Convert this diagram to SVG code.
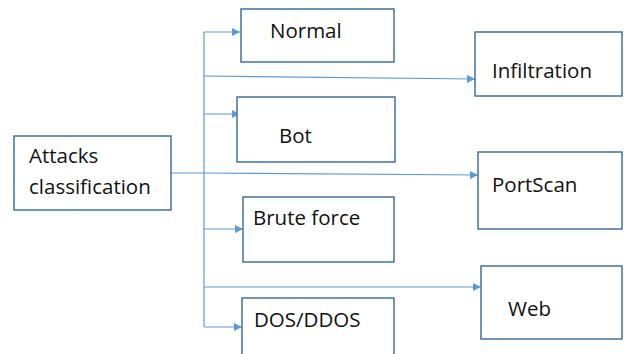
<svg xmlns="http://www.w3.org/2000/svg" width="627" height="354" viewBox="0 0 627 354">
<defs>
<style>
.box{fill:#fff;stroke:#41719C;stroke-width:1.5}
.lbl{font-family:"Open Sans","Liberation Sans",Arial,sans-serif;font-size:20.5px;fill:#111}
.con{fill:none;stroke:#5B9BD5;stroke-width:1.2}
</style>
<marker id="ah" viewBox="0 0 10 10" refX="10" refY="5" markerWidth="8" markerHeight="8" markerUnits="userSpaceOnUse" orient="auto">
<path d="M0,0 L10,5 L0,10 z" fill="#5B9BD5"/>
</marker>
</defs>
<rect width="627" height="354" fill="#fff"/>
<g id="connectors">
<line class="con" x1="204" y1="32" x2="204" y2="327"/>
<line class="con" x1="171" y1="173" x2="204" y2="173"/>
<line class="con" x1="204" y1="32" x2="240" y2="32" marker-end="url(#ah)"/>
<line class="con" x1="204" y1="76" x2="475" y2="79" marker-end="url(#ah)"/>
<line class="con" x1="204" y1="114" x2="240" y2="114" marker-end="url(#ah)"/>
<line class="con" x1="204" y1="173" x2="478" y2="175" marker-end="url(#ah)"/>
<line class="con" x1="204" y1="229" x2="243" y2="229" marker-end="url(#ah)"/>
<line class="con" x1="204" y1="287" x2="481" y2="287" marker-end="url(#ah)"/>
<line class="con" x1="204" y1="327" x2="242" y2="327" marker-end="url(#ah)"/>
</g>
<g id="attacks">
<rect class="box" x="14" y="136" width="157" height="74"/>
<text class="lbl" x="29" y="163">Attacks</text>
<text class="lbl" x="29" y="194">classification</text>
</g>
<g id="normal">
<rect class="box" x="241" y="9" width="153" height="53"/>
<text class="lbl" x="270" y="38">Normal</text>
</g>
<g id="bot">
<rect class="box" x="237" y="97" width="158" height="65"/>
<text class="lbl" x="279" y="143">Bot</text>
</g>
<g id="brute">
<rect class="box" x="243" y="197" width="151" height="65"/>
<text class="lbl" x="253" y="225">Brute force</text>
</g>
<g id="dos">
<rect class="box" x="242" y="298" width="152" height="70"/>
<text class="lbl" x="254" y="327">DOS/DDOS</text>
</g>
<g id="infiltration">
<rect class="box" x="475" y="32" width="147" height="64"/>
<text class="lbl" x="492" y="78">Infiltration</text>
</g>
<g id="portscan">
<rect class="box" x="478" y="152" width="144" height="77"/>
<text class="lbl" x="492" y="192">PortScan</text>
</g>
<g id="web">
<rect class="box" x="481" y="266" width="141" height="73"/>
<text class="lbl" x="508" y="316">Web</text>
</g>
</svg>
